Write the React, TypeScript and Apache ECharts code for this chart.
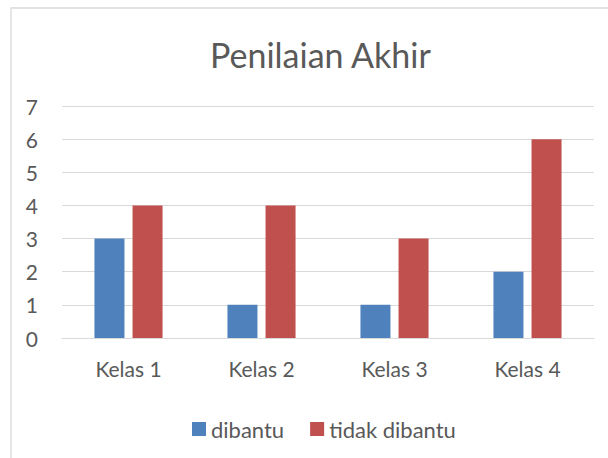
import React, { useEffect, useRef } from "react";
import * as echarts from "echarts";

const categories = ["Kelas 1", "Kelas 2", "Kelas 3", "Kelas 4"];
const dibantu = [3, 1, 1, 2];
const tidakDibantu = [4, 4, 3, 6];
const seriesNames = ["dibantu", "tidak dibantu"];

export default function App() {
  const ref = useRef<HTMLDivElement>(null);
  useEffect(() => {
    if (!ref.current) return;
    const chart = echarts.init(ref.current, null, { renderer: "svg" });
    const font = "Lato, 'Open Sans', sans-serif";
    chart.setOption({
      animation: false,
      backgroundColor: "#ffffff",
      title: {
        text: "Penilaian Akhir",
        left: 205,
        top: 32,
        textStyle: { fontFamily: font, fontSize: 34, fontWeight: "normal", color: "#595959" },
      },
      graphic: [
        {
          type: "rect",
          shape: { x: 11, y: 8, width: 640, height: 500 },
          style: { fill: "none", stroke: "#d9d9d9", lineWidth: 1.3 },
          silent: true,
        },
      ],
      legend: {
        top: 413,
        left: 187,
        itemWidth: 14,
        itemHeight: 14,
        itemGap: 26,
        icon: "rect",
        data: seriesNames,
        textStyle: { fontFamily: font, fontSize: 22, color: "#595959", padding: [0, 0, 0, 0] },
      },
      grid: { left: 62, right: 14, top: 106, bottom: 120 },
      xAxis: {
        type: "category",
        data: categories,
        axisLine: { lineStyle: { color: "#d9d9d9", width: 1 } },
        axisTick: { show: false },
        axisLabel: { fontFamily: font, fontSize: 21, color: "#595959", margin: 20 },
      },
      yAxis: {
        type: "value",
        min: 0,
        max: 7,
        interval: 1,
        axisLine: { show: false },
        axisTick: { show: false },
        splitLine: { lineStyle: { color: "#d9d9d9", width: 1 } },
        axisLabel: { fontFamily: font, fontSize: 21, color: "#595959", margin: 24 },
      },
      series: [
        {
          name: seriesNames[0],
          type: "bar",
          data: dibantu,
          barWidth: 30,
          barGap: "27%",
          itemStyle: { color: "#4F81BD" },
        },
        {
          name: seriesNames[1],
          type: "bar",
          data: tidakDibantu,
          barWidth: 30,
          itemStyle: { color: "#C0504D" },
        },
      ],
    });
    return () => chart.dispose();
  }, []);
  return (
    <div
      ref={ref}
      style={{ position: "absolute", left: 0, top: 0, width: 608, height: 458 }}
    />
  );
}
